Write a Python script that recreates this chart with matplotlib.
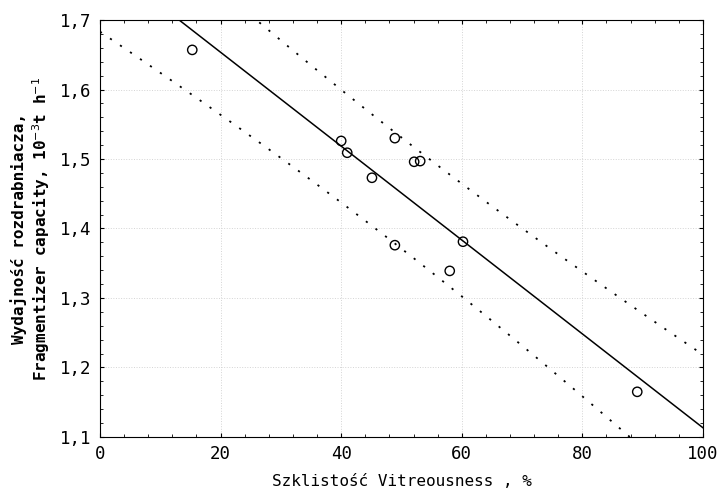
import numpy as np
import matplotlib.pyplot as plt
from matplotlib.ticker import MultipleLocator, FuncFormatter

# Points
vitreousness = [15.3, 40.0, 41.0, 45.1, 48.9, 52.1, 53.1, 48.9, 60.2, 58.0, 89.1]
capacity = [1.657, 1.526, 1.509, 1.473, 1.530, 1.496, 1.497, 1.376, 1.381, 1.339, 1.165]

x_ticks = [0, 20, 40, 60, 80, 100]
y_ticks = [1.1, 1.2, 1.3, 1.4, 1.5, 1.6, 1.7]

plt.rcParams['font.family'] = ['DejaVu Sans Mono']

x = np.array(vitreousness)
y = np.array(capacity)

# Linear fit with prediction band (band width matched to the figure)
slope, intercept = np.polyfit(x, y, 1)
n = len(x)
resid = y - (slope * x + intercept)
s = np.sqrt(np.sum(resid ** 2) / (n - 2))
t = 1.46
xs = np.linspace(0, 100, 200)
fit = slope * xs + intercept
half = t * s * np.sqrt(1 + 1 / n + (xs - x.mean()) ** 2 / np.sum((x - x.mean()) ** 2))

fig = plt.figure(figsize=(7.21, 4.94), dpi=100)
ax = fig.add_axes([0.1387, 0.1154, 0.8363, 0.8441])

ax.plot(xs, fit, color='black', lw=1.1)
ax.plot(xs, fit + half, color='black', lw=1.3, ls=(0, (1.2, 5.5)))
ax.plot(xs, fit - half, color='black', lw=1.3, ls=(0, (1.2, 5.5)))
ax.scatter(x, y, s=45, facecolors='none', edgecolors='black', linewidths=1.0, zorder=3)

ax.set_xlim(0, 100)
ax.set_ylim(1.1, 1.7)
ax.set_xticks(x_ticks)
ax.set_yticks(y_ticks)
ax.xaxis.set_minor_locator(MultipleLocator(4))
ax.yaxis.set_minor_locator(MultipleLocator(0.02))
ax.yaxis.set_major_formatter(FuncFormatter(lambda v, p: f"{v:.1f}".replace('.', ',')))
ax.tick_params(which='both', direction='in', top=True, right=True, labelsize=12.5)
ax.tick_params(which='major', length=3, pad=6)
ax.tick_params(which='minor', length=2)
ax.grid(True, color='#d4d4d4', ls=':', lw=0.7)

ax.set_xlabel("Szklistość Vitreousness , %", fontsize=11.5, labelpad=8)
ax.set_ylabel("Wydajność rozdrabniacza,\nFragmentizer capacity, 10$^{-3}$t h$^{-1}$",
              fontsize=11.5, fontweight='bold', labelpad=6)

fig.savefig('out.png', dpi=100)
